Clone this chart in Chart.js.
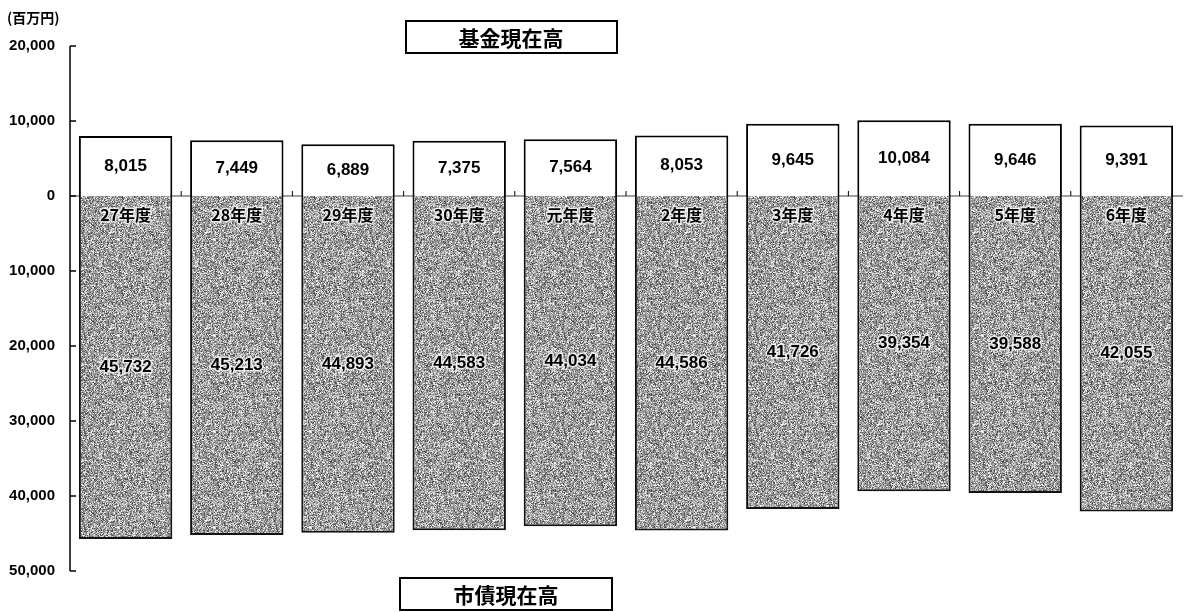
<!DOCTYPE html>
<html>
<head>
<meta charset="utf-8">
<script src="https://cdn.jsdelivr.net/npm/chart.js@4"></script>
<style>
  html, body { margin: 0; padding: 0; background: #fff; }
  #wrap { width: 1186px; height: 612px; position: relative; }
</style>
</head>
<body>
<div id="wrap"><canvas id="grafico"></canvas></div>
<script>
// datos
const nendo = ['27年度', '28年度', '29年度', '30年度', '元年度', '2年度', '3年度', '4年度', '5年度', '6年度'];
const kikin = [8015, 7449, 6889, 7375, 7564, 8053, 9645, 10084, 9646, 9391];
const shisai = [45732, 45213, 44893, 44583, 44034, 44586, 41726, 39354, 39588, 42055];
const ticksY = [20000, 10000, 0, -10000, -20000, -30000, -40000, -50000];

const fmt = v => Math.abs(v).toLocaleString('en-US');

// textura gris tipo fotocopia
function textura() {
    const c = document.createElement('canvas');
    c.width = 96; c.height = 96;
    const g = c.getContext('2d');
    for (let y = 0; y < 96; y++) {
        for (let x = 0; x < 96; x++) {
            let h = Math.imul(x * 374761393 + y * 668265263, 1274126177);
            h = (h ^ (h >>> 13)) >>> 0;
            const v = (h % 1000) / 1000;
            let col = '#555';
            if (v > 0.18) col = '#888';
            if (v > 0.45) col = '#a6a6a6';
            if (v > 0.75) col = '#d8d8d8';
            if (v > 0.92) col = '#f4f4f4';
            g.fillStyle = col;
            g.fillRect(x, y, 1, 1);
        }
    }
    return g.createPattern(c, 'repeat');
}

const ctx = document.getElementById('grafico');

function texto(c, t, x, y) {
    c.lineWidth = 3;
    c.strokeStyle = 'rgba(255,255,255,0.75)';
    c.strokeText(t, x, y);
    c.fillStyle = '#000';
    c.fillText(t, x, y);
}

const dibujos = {
    id: 'dibujos',
    beforeDatasetsDraw(chart) {
        const c = chart.ctx;
        const area = chart.chartArea;
        const y = chart.scales.y;
        const x = chart.scales.x;
        const y0 = y.getPixelForValue(0);
        c.save();
        // linea del cero
        c.strokeStyle = '#808080';
        c.lineWidth = 1.5;
        c.beginPath();
        c.moveTo(area.left, y0);
        c.lineTo(area.right + 1, y0);
        c.stroke();
        // marcas entre categorias
        c.strokeStyle = '#000';
        c.lineWidth = 1;
        for (let i = 1; i < nendo.length; i++) {
            const xm = (x.getPixelForValue(i - 1) + x.getPixelForValue(i)) / 2;
            c.beginPath();
            c.moveTo(xm, y0 - 5);
            c.lineTo(xm, y0);
            c.stroke();
        }
        // eje vertical
        c.lineWidth = 1.5;
        c.beginPath();
        c.moveTo(area.left, area.top);
        c.lineTo(area.left, area.bottom);
        c.stroke();
        ticksY.forEach(t => {
            const py = y.getPixelForValue(t);
            c.beginPath();
            c.moveTo(area.left, py);
            c.lineTo(area.left + 6, py);
            c.stroke();
        });
        c.restore();
    },
    afterDatasetsDraw(chart) {
        const c = chart.ctx;
        c.save();
        c.textAlign = 'center';
        c.textBaseline = 'middle';
        c.fillStyle = '#000';
        chart.getDatasetMeta(0).data.forEach((el, i) => {
            c.font = 'bold 17px "Liberation Sans", Arial, sans-serif';
            c.fillText(fmt(kikin[i]), el.x, (el.y + el.base) / 2);
        });
        chart.getDatasetMeta(1).data.forEach((el, i) => {
            c.font = 'bold 17px "Liberation Sans", Arial, sans-serif';
            texto(c, fmt(shisai[i]), el.x, (el.y + el.base) / 2);
            c.font = 'bold 16px "Noto Sans CJK JP", sans-serif';
            texto(c, nendo[i], el.x, el.base + 19);
        });

        // titulos
        c.fillStyle = '#000';
        c.font = 'bold 14px "Noto Sans CJK JP", sans-serif';
        c.textAlign = 'left';
        c.fillText('(百万円)', 7, 18);

        c.lineWidth = 2;
        c.strokeStyle = '#000';
        c.strokeRect(406, 21, 211, 32);
        c.strokeRect(400, 578, 212, 32);
        c.font = 'bold 21px "Noto Sans CJK JP", sans-serif';
        c.textAlign = 'center';
        c.fillText('基金現在高', 511, 38);
        c.fillText('市債現在高', 506, 595);
        c.restore();
    }
};

new Chart(ctx, {
    type: 'bar',
    data: {
        labels: nendo,
        datasets: [{
            label: '基金現在高',
            data: kikin,
            backgroundColor: '#ffffff',
            borderColor: '#000000',
            borderWidth: 2,
            barPercentage: 0.84,
            categoryPercentage: 1
        }, {
            label: '市債現在高',
            data: shisai.map(v => -v),
            backgroundColor: textura(),
            borderColor: '#111111',
            borderWidth: 2,
            barPercentage: 0.84,
            categoryPercentage: 1
        }]
    },
    options: {
        responsive: true,
        maintainAspectRatio: false,
        animation: false,
        layout: {
            padding: { top: 46, bottom: 41, right: 4, left: 0 }
        },
        plugins: {
            legend: { display: false },
            tooltip: { enabled: false }
        },
        scales: {
            x: {
                stacked: true,
                display: false
            },
            y: {
                stacked: true,
                min: -50000,
                max: 20000,
                afterFit: s => { s.width = 70; },
                grid: { display: false, drawTicks: false },
                border: { display: false },
                ticks: {
                    stepSize: 10000,
                    padding: 15,
                    color: '#000',
                    font: { family: '"Liberation Sans", Arial, sans-serif', size: 15, weight: 'bold' },
                    callback: v => fmt(v)
                }
            }
        }
    },
    plugins: [dibujos]
});
</script>
</body>
</html>
